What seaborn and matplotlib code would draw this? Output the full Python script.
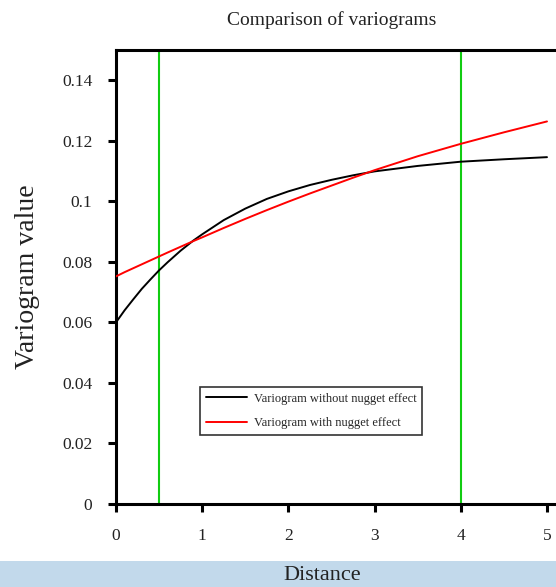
import numpy as np
import pandas as pd
import matplotlib
matplotlib.use("Agg")
import matplotlib.pyplot as plt
import seaborn as sns

# Lag distances and variogram estimates
distance = [0.0, 0.1, 0.2, 0.3, 0.4, 0.5, 0.6, 0.75, 0.9, 1.0, 1.25, 1.5, 1.75,
            2.0, 2.25, 2.5, 2.75, 3.0, 3.5, 4.0, 4.5, 5.0]
gamma_no_nugget = [0.0600, 0.0640, 0.0676, 0.0711, 0.0742, 0.0772, 0.0799, 0.0837,
                   0.0871, 0.0891, 0.0938, 0.0976, 0.1008, 0.1033, 0.1054, 0.1071,
                   0.1086, 0.1099, 0.1117, 0.1131, 0.1139, 0.1146]
gamma_nugget = [0.0752, 0.0766, 0.0779, 0.0792, 0.0805, 0.0818, 0.0831, 0.0850,
                0.0869, 0.0881, 0.0912, 0.0942, 0.0971, 0.0999, 0.1026, 0.1052,
                0.1078, 0.1103, 0.1149, 0.1190, 0.1228, 0.1264]
series_names = ["Variogram without nugget effect", "Variogram with nugget effect"]
marker_lines = [0.5, 4.0]
x_ticks = [0, 1, 2, 3, 4, 5]
y_ticks = [0, 0.02, 0.04, 0.06, 0.08, 0.1, 0.12, 0.14]

df = pd.concat([
    pd.DataFrame({"Distance": distance, "Variogram value": gamma_no_nugget, "Model": series_names[0]}),
    pd.DataFrame({"Distance": distance, "Variogram value": gamma_nugget, "Model": series_names[1]}),
])

sns.set_style("ticks")
plt.rcParams["font.family"] = ["Liberation Serif", "DejaVu Serif"]

fig = plt.figure(figsize=(5.56, 5.87), dpi=100)
ax = fig.add_axes([0.2086, 0.1414, 0.8217, 0.7734])

# light band behind the x-axis title
fig.patches.append(plt.Rectangle((0, 0), 1, 26 / 587, transform=fig.transFigure,
                                 facecolor="#c2d9eb", edgecolor="none", zorder=0))

for xv in marker_lines:
    ax.axvline(xv, color="#11cc11", lw=1.5, zorder=1)

sns.lineplot(data=df, x="Distance", y="Variogram value", hue="Model",
             palette=["black", "red"], linewidth=1.4, ax=ax, zorder=3, legend=False)

ax.set_xlim(0, 5.3)
ax.set_ylim(0, 0.15)
ax.set_xticks(x_ticks)
ax.set_xticklabels([str(t) for t in x_ticks])
ax.set_yticks(y_ticks)
ax.set_yticklabels(["%g" % t for t in y_ticks])
ax.tick_params(direction="out", length=6, width=2.2, labelsize=12.5, colors="black",
               labelcolor="#222222")
ax.tick_params(axis="y", pad=11)
ax.tick_params(axis="x", pad=11)
for s in ax.spines.values():
    s.set_linewidth(2.2)
    s.set_color("black")
    s.set_visible(True)
ax.set_xlabel("")
ax.set_ylabel("")

handles = [plt.Line2D([], [], color="black", lw=1.4),
           plt.Line2D([], [], color="red", lw=1.4)]
leg = ax.legend(handles, series_names, loc="lower left", bbox_to_anchor=(0.184, 0.152),
                borderaxespad=0, fontsize=9, frameon=True, fancybox=False,
                handlelength=3.3, handletextpad=0.55, labelspacing=1.0, borderpad=0.45)
leg.get_frame().set_edgecolor("black")
leg.get_frame().set_linewidth(1.2)

fig.text(332 / 556, 1 - 20 / 587, "Comparison of variograms", ha="center", va="center",
         fontsize=14, color="#222222")
fig.text(28 / 556, 1 - 277 / 587, "Variogram value", ha="center", va="center",
         rotation=90, fontsize=20, color="#222222")
fig.text(322 / 556, 1 - 576 / 587, "Distance", ha="center", va="center",
         fontsize=16, color="#222222")

fig.savefig("out.png", dpi=100)
